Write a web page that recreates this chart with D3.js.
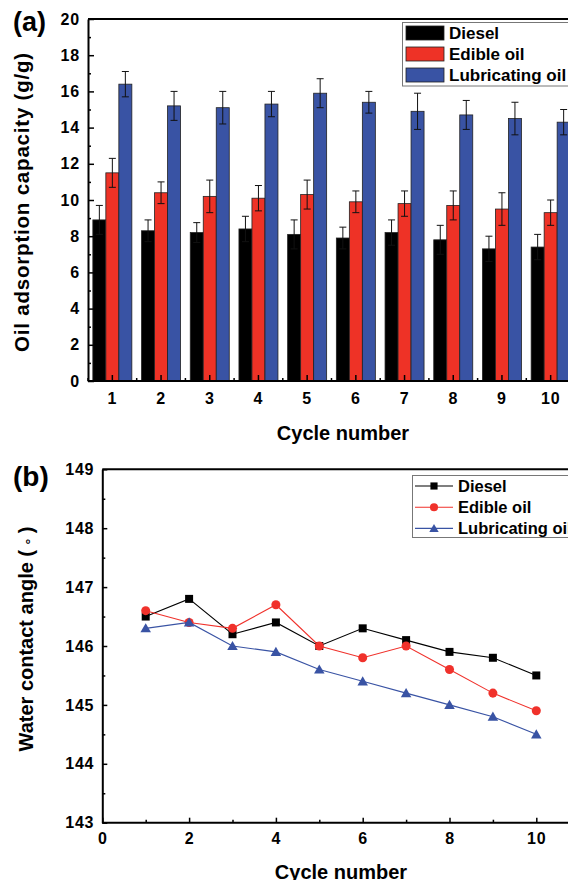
<!DOCTYPE html>
<html>
<head>
<meta charset="utf-8">
<script src="https://cdn.jsdelivr.net/npm/d3@7"></script>
<style>
body { margin: 0; background: #fff; }
svg text { font-family: "Liberation Sans", Arial, sans-serif; font-weight: bold; fill: #000; }
</style>
</head>
<body>
<svg id="chart" width="568" height="880"></svg>
<script>
// ---- data (a) ----
cycles = [1, 2, 3, 4, 5, 6, 7, 8, 9, 10];
seriesNames = ['Diesel', 'Edible oil', 'Lubricating oil'];
seriesColors = ['#000000', '#ee3226', '#3953a4'];
dieselCap = [8.9, 8.3, 8.2, 8.4, 8.1, 7.9, 8.2, 7.8, 7.3, 7.4];
dieselErr = [0.8, 0.6, 0.55, 0.7, 0.8, 0.6, 0.7, 0.8, 0.7, 0.7];
edibleCap = [11.5, 10.4, 10.2, 10.1, 10.3, 9.9, 9.8, 9.7, 9.5, 9.3];
edibleErr = [0.8, 0.6, 0.9, 0.7, 0.8, 0.6, 0.7, 0.8, 0.9, 0.7];
lubCap = [16.4, 15.2, 15.1, 15.3, 15.9, 15.4, 14.9, 14.7, 14.5, 14.3];
lubErr = [0.7, 0.8, 0.9, 0.7, 0.8, 0.6, 1.0, 0.8, 0.9, 0.7];
capTicks = [0, 2, 4, 6, 8, 10, 12, 14, 16, 18, 20];
capMinor = [1, 3, 5, 7, 9, 11, 13, 15, 17, 19];

// ---- data (b) ----
dieselAngle = [146.5, 146.8, 146.2, 146.4, 146.0, 146.3, 146.1, 145.9, 145.8, 145.5];
edibleAngle = [146.6, 146.4, 146.3, 146.7, 146.0, 145.8, 146.0, 145.6, 145.2, 144.9];
lubAngle = [146.3, 146.4, 146.0, 145.9, 145.6, 145.4, 145.2, 145.0, 144.8, 144.5];
angleTicks = [143, 144, 145, 146, 147, 148, 149];
angleMinor = [143.5, 144.5, 145.5, 146.5, 147.5, 148.5];
cycleTicks = [0, 2, 4, 6, 8, 10];
cycleMinor = [1, 3, 5, 7, 9, 11];

svg = d3.select('#chart');

function styleAxis(g) {
    g.select('.domain').attr('stroke', '#000').attr('stroke-width', 2);
    g.selectAll('.tick line').attr('stroke', '#000').attr('stroke-width', 1.5);
    g.selectAll('.tick text')
        .attr('font-size', '16px')
        .attr('letter-spacing', '0.8px')
        .attr('fill', '#000');
}

// ================= panel (a) =================
var aLeft = 88, aRight = 575, aTop = 19, aBottom = 381;
var x = d3.scaleBand().domain(cycles).range([aLeft, aRight]).padding(0);
var xs = d3.scaleBand().domain(seriesNames).range([-19.5, 19.5]);
var y = d3.scaleLinear().domain([0, 20]).range([aBottom, aTop]);

var capData = [dieselCap, edibleCap, lubCap];
var errData = [dieselErr, edibleErr, lubErr];

var pa = svg.append('g');

// bars + error bars
seriesNames.forEach(function(name, s) {
    var g = pa.append('g');
    var rows = cycles.map(function(c, i) { return {c: c, v: capData[s][i], e: errData[s][i]}; });
    g.selectAll('rect').data(rows).enter().append('rect')
        .attr('x', function(d) { return x(d.c) + x.bandwidth() / 2 + xs(name); })
        .attr('width', xs.bandwidth())
        .attr('y', function(d) { return y(d.v); })
        .attr('height', function(d) { return y(0) - y(d.v); })
        .attr('fill', seriesColors[s])
        .attr('stroke', '#222')
        .attr('stroke-width', 0.8);
    var eb = g.selectAll('g.err').data(rows).enter().append('g').attr('class', 'err');
    function cx(d) { return x(d.c) + x.bandwidth() / 2 + xs(name) + xs.bandwidth() / 2; }
    eb.append('line')
        .attr('x1', cx).attr('x2', cx)
        .attr('y1', function(d) { return y(d.v - d.e); })
        .attr('y2', function(d) { return y(d.v + d.e); })
        .attr('stroke', '#111').attr('stroke-width', 1);
    eb.append('line')
        .attr('x1', function(d) { return cx(d) - 3.5; }).attr('x2', function(d) { return cx(d) + 3.5; })
        .attr('y1', function(d) { return y(d.v + d.e); })
        .attr('y2', function(d) { return y(d.v + d.e); })
        .attr('stroke', '#111').attr('stroke-width', 1);
    eb.append('line')
        .attr('x1', function(d) { return cx(d) - 3.5; }).attr('x2', function(d) { return cx(d) + 3.5; })
        .attr('y1', function(d) { return y(d.v - d.e); })
        .attr('y2', function(d) { return y(d.v - d.e); })
        .attr('stroke', '#111').attr('stroke-width', 1);
});

// axes (a)
var yAxisA = pa.append('g').attr('transform', 'translate(' + aLeft + ',0)')
    .call(d3.axisLeft(y).tickValues(capTicks).tickSize(-6).tickSizeOuter(0).tickPadding(8));
styleAxis(yAxisA);
pa.append('g').attr('transform', 'translate(' + aLeft + ',0)')
    .call(d3.axisLeft(y).tickValues(capMinor).tickSize(-3).tickFormat(''))
    .call(function(g) { g.select('.domain').remove(); g.selectAll('line').attr('stroke-width', 1.5); });

var xAxisA = pa.append('g').attr('transform', 'translate(0,' + aBottom + ')')
    .call(d3.axisBottom(x).tickSize(-6).tickSizeOuter(0).tickPadding(12));
styleAxis(xAxisA);
xAxisA.select('.domain').attr('d', 'M' + aLeft + ',0H600');
// minor ticks on band edges
pa.append('g').selectAll('line').data(cycles).enter().append('line')
    .attr('x1', function(d) { return x(d); }).attr('x2', function(d) { return x(d); })
    .attr('y1', aBottom).attr('y2', aBottom - 3)
    .attr('stroke', '#000').attr('stroke-width', 1.5);

// top frame
pa.append('line').attr('x1', aLeft).attr('x2', 600).attr('y1', aTop).attr('y2', aTop)
    .attr('stroke', '#000').attr('stroke-width', 2);

// legend (a)
var la = pa.append('g');
la.append('rect').attr('x', 402.5).attr('y', 22.5).attr('width', 200).attr('height', 63.5)
    .attr('fill', '#fff').attr('stroke', '#777').attr('stroke-width', 1);
seriesNames.forEach(function(name, s) {
    var cy = 33 + s * 21;
    la.append('rect').attr('x', 406).attr('y', cy - 7).attr('width', 38).attr('height', 14)
        .attr('fill', seriesColors[s]).attr('stroke', '#222').attr('stroke-width', 0.8);
    la.append('text').attr('x', 449).attr('y', cy + 6).attr('font-size', '17px').text(name);
});

// titles (a)
svg.append('text').attr('x', 13).attr('y', 31).attr('font-size', '27px').text('(a)');
svg.append('text').attr('transform', 'translate(29,' + ((aTop + aBottom) / 2 + 2) + ') rotate(-90)')
    .attr('text-anchor', 'middle').attr('font-size', '20.5px').attr('letter-spacing', '0.8px')
    .text('Oil adsorption capacity (g/g)');
svg.append('text').attr('x', 343).attr('y', 440).attr('text-anchor', 'middle')
    .attr('font-size', '20px').text('Cycle number');

// ================= panel (b) =================
var bLeft = 102.3, bRight = 579.7, bTop = 469.3, bBottom = 822.7;
var x2 = d3.scaleLinear().domain([0, 11]).range([bLeft, bRight]);
var y2 = d3.scaleLinear().domain([143, 149]).range([bBottom, bTop]);
var pb = svg.append('g');

var yAxisB = pb.append('g').attr('transform', 'translate(' + bLeft + ',0)')
    .call(d3.axisLeft(y2).tickValues(angleTicks).tickFormat(d3.format('d'))
        .tickSize(-5).tickSizeOuter(0).tickPadding(8));
styleAxis(yAxisB);
pb.append('g').attr('transform', 'translate(' + bLeft + ',0)')
    .call(d3.axisLeft(y2).tickValues(angleMinor).tickSize(-3).tickFormat(''))
    .call(function(g) { g.select('.domain').remove(); g.selectAll('line').attr('stroke-width', 1.5); });

var xAxisB = pb.append('g').attr('transform', 'translate(0,' + bBottom + ')')
    .call(d3.axisBottom(x2).tickValues(cycleTicks).tickFormat(d3.format('d'))
        .tickSize(-5).tickSizeOuter(0).tickPadding(10));
styleAxis(xAxisB);
xAxisB.select('.domain').attr('d', 'M' + bLeft + ',0H600');
pb.append('g').attr('transform', 'translate(0,' + bBottom + ')')
    .call(d3.axisBottom(x2).tickValues(cycleMinor).tickSize(-3).tickFormat(''))
    .call(function(g) { g.select('.domain').remove(); g.selectAll('line').attr('stroke-width', 1.5); });

pb.append('line').attr('x1', bLeft).attr('x2', 600).attr('y1', bTop).attr('y2', bTop)
    .attr('stroke', '#000').attr('stroke-width', 2);

var angleData = [dieselAngle, edibleAngle, lubAngle];
var lineColors = ['#000000', '#f0312b', '#3953a4'];
var symbols = [d3.symbolSquare, d3.symbolCircle, d3.symbolTriangle];
var symSizes = [64, 64, 48];
var line = d3.line().x(function(d) { return x2(d.c); }).y(function(d) { return y2(d.v); });

seriesNames.forEach(function(name, s) {
    var rows = cycles.map(function(c, i) { return {c: c, v: angleData[s][i]}; });
    pb.append('path').datum(rows).attr('d', line)
        .attr('fill', 'none').attr('stroke', lineColors[s]).attr('stroke-width', 1.1);
    pb.append('g').selectAll('path').data(rows).enter().append('path')
        .attr('d', d3.symbol().type(symbols[s]).size(symSizes[s]))
        .attr('transform', function(d) { return 'translate(' + x2(d.c) + ',' + (y2(d.v) + (s == 2 ? 1 : 0)) + ')'; })
        .attr('fill', lineColors[s]);
});

// legend (b)
var lb = pb.append('g');
lb.append('rect').attr('x', 412.5).attr('y', 475.5).attr('width', 200).attr('height', 62)
    .attr('fill', '#fff').attr('stroke', '#777').attr('stroke-width', 1);
seriesNames.forEach(function(name, s) {
    var cy = 486 + s * 21.2;
    lb.append('line').attr('x1', 415).attr('x2', 453).attr('y1', cy).attr('y2', cy)
        .attr('stroke', lineColors[s]).attr('stroke-width', 1.1);
    lb.append('path').attr('d', d3.symbol().type(symbols[s]).size(symSizes[s] * 0.8))
        .attr('transform', 'translate(434,' + (cy + (s == 2 ? 1 : 0)) + ')')
        .attr('fill', lineColors[s]);
    lb.append('text').attr('x', 458).attr('y', cy + 6).attr('font-size', '16.5px').text(name);
});

// titles (b)
svg.append('text').attr('x', 13).attr('y', 486).attr('font-size', '28px').text('(b)');
var yt = svg.append('text').attr('transform', 'translate(33,' + ((bTop + bBottom) / 2 - 7) + ') rotate(-90)')
    .attr('text-anchor', 'middle').attr('font-size', '20px');
yt.append('tspan').text('Water contact angle (');
yt.append('tspan').attr('font-size', '14px').attr('font-weight', 'normal').attr('dy', -1).text(' \u2218 ');
yt.append('tspan').attr('dy', 1).text(')');
svg.append('text').attr('x', 341).attr('y', 879).attr('text-anchor', 'middle')
    .attr('font-size', '20px').text('Cycle number');
</script>
</body>
</html>
